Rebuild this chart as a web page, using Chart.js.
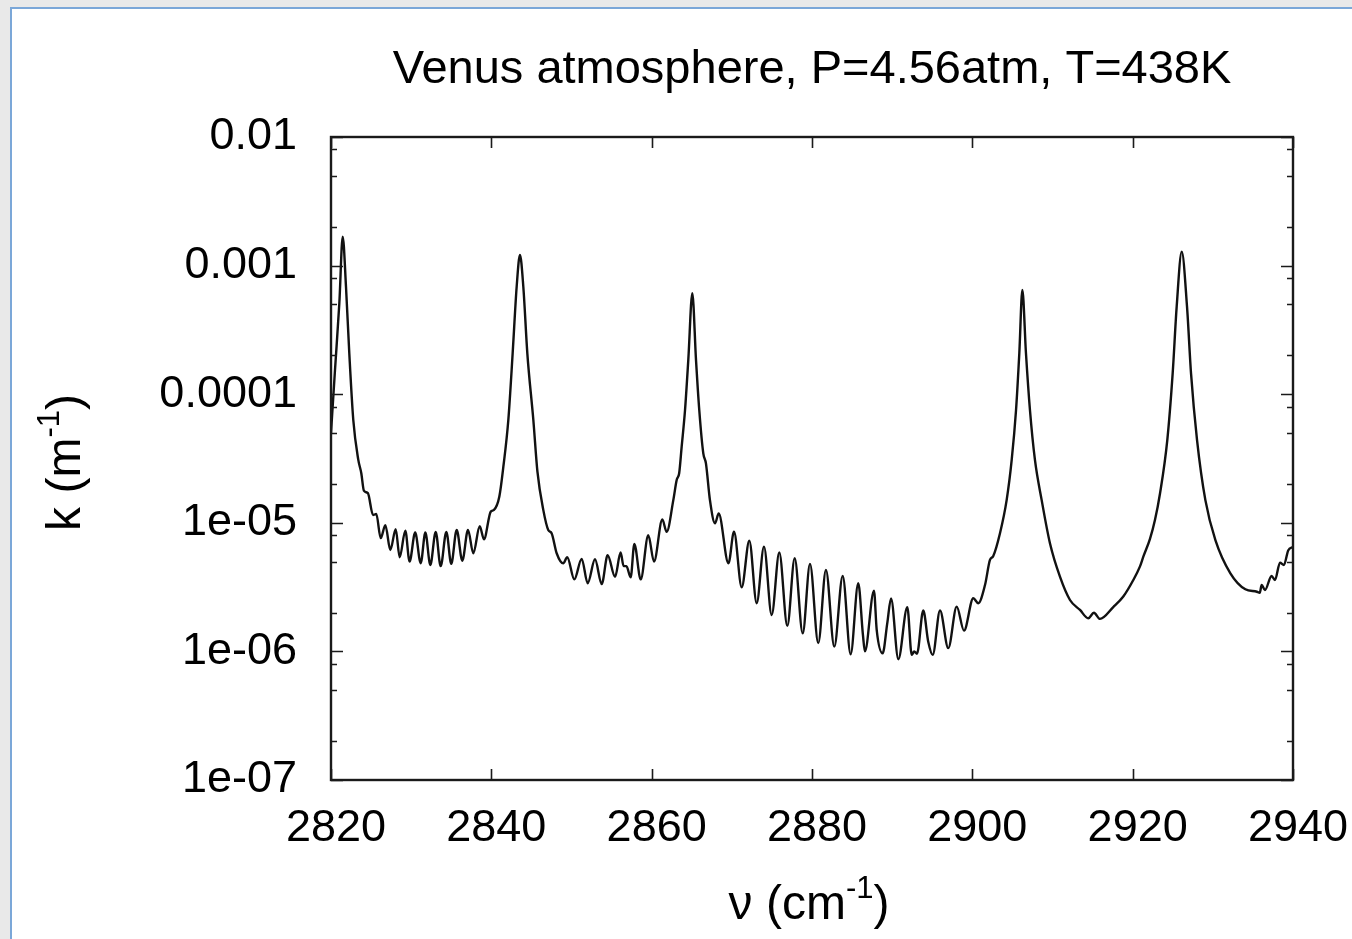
<!DOCTYPE html>
<html><head><meta charset="utf-8">
<script src="https://cdn.jsdelivr.net/npm/chart.js@4.4.0/dist/chart.umd.min.js"></script>
<style>
html,body{margin:0;padding:0;width:1352px;height:939px;overflow:hidden;background:#e9e9e9;}
#frame{position:absolute;left:10px;top:7px;width:1400px;height:1000px;background:#fff;border-left:2px solid #7ba7d8;border-top:2px solid #7ba7d8;}
#c{position:absolute;left:0;top:0;}
</style></head><body>
<div id="frame"></div>
<canvas id="c" width="1352" height="939"></canvas>
<script>
// wavenumber (cm^-1)
const wavenumber = [
 2820.0, 2820.5, 2821.04, 2821.46, 2821.87, 2822.28, 2822.78, 2823.4, 2823.78, 2824.1,
 2824.6, 2825.24, 2825.65, 2826.2, 2826.78, 2827.4, 2828.07, 2828.57, 2829.27, 2829.8,
 2830.5, 2831.19, 2831.77, 2832.39, 2833.06, 2833.68, 2834.39, 2835.0, 2835.68, 2836.38,
 2837.09, 2837.75, 2838.55, 2839.08, 2839.92, 2840.33, 2841.0, 2841.5, 2842.12, 2842.66,
 2843.16, 2843.57, 2843.99, 2844.49, 2845.24, 2845.75, 2846.48, 2847.1, 2847.52, 2848.15,
 2848.97, 2849.47, 2850.35, 2851.27, 2852.02, 2852.93, 2853.77, 2854.51, 2855.43, 2856.13,
 2856.5, 2856.85, 2857.38, 2857.84, 2858.63, 2859.58, 2860.29, 2861.33, 2861.87, 2862.7,
 2863.12, 2863.43, 2863.74, 2864.16, 2864.57, 2865.07, 2865.53, 2865.94, 2866.44, 2866.77,
 2867.27, 2867.9, 2868.36, 2869.58, 2870.27, 2871.23, 2872.18, 2873.1, 2874.01, 2874.97,
 2875.92, 2876.92, 2877.84, 2878.84, 2879.75, 2880.78, 2881.74, 2882.78, 2883.83, 2884.82,
 2885.77, 2886.35, 2886.6, 2887.73, 2888.07, 2888.81, 2889.39, 2889.86, 2890.77, 2891.89,
 2892.44, 2892.75, 2893.1, 2893.88, 2894.5, 2895.06, 2895.97, 2897.0, 2898.05, 2898.96,
 2900.12, 2900.74, 2901.58, 2902.2, 2902.6, 2903.45, 2904.28, 2904.91, 2905.45, 2905.86,
 2906.24, 2906.69, 2907.19, 2907.81, 2908.65, 2909.69, 2910.93, 2912.18, 2913.43, 2914.46,
 2915.17, 2915.92, 2917.58, 2918.83, 2920.08, 2920.9, 2921.33, 2922.16, 2922.78, 2923.41,
 2924.32, 2924.99, 2925.49, 2926.12, 2926.78, 2927.28, 2928.03, 2929.07, 2930.32, 2932.19,
 2934.06, 2935.5, 2935.85, 2936.09, 2936.5, 2937.33, 2937.75, 2938.38, 2938.87, 2939.4,
 2940.0
];
// absorption coefficient k (m^-1)
const absorption = [
 5.0e-5, 1.55e-4, 5.1e-4, 1.68e-3, 6.85e-4, 2.09e-4, 6.3e-5, 3.1e-5, 2.43e-5, 1.78e-5,
 1.7e-5, 1.15e-5, 1.17e-5, 7.6e-6, 9.6e-6, 6.15e-6, 8.9e-6, 5.4e-6, 8.7e-6, 5.0e-6,
 8.4e-6, 4.85e-6, 8.4e-6, 4.7e-6, 8.5e-6, 4.6e-6, 8.5e-6, 4.8e-6, 8.8e-6, 5.07e-6,
 8.8e-6, 5.8e-6, 9.4e-6, 7.45e-6, 1.22e-5, 1.26e-5, 1.6e-5, 2.73e-5, 6.3e-5, 2.08e-4,
 6.85e-4, 1.21e-3, 6.85e-4, 2.08e-4, 6.3e-5, 2.5e-5, 1.26e-5, 8.8e-6, 8.3e-6, 5.8e-6,
 4.84e-6, 5.4e-6, 3.63e-6, 5.24e-6, 3.39e-6, 5.2e-6, 3.34e-6, 5.6e-6, 3.8e-6, 5.87e-6,
 4.6e-6, 4.6e-6, 3.77e-6, 6.84e-6, 3.63e-6, 8.0e-6, 4.99e-6, 1.06e-5, 8.5e-6, 1.5e-5,
 2.15e-5, 2.43e-5, 3.9e-5, 7.5e-5, 1.85e-4, 6.09e-4, 1.85e-4, 7.5e-5, 3.47e-5, 2.9e-5,
 1.5e-5, 9.9e-6, 1.18e-5, 4.84e-6, 8.53e-6, 3.15e-6, 7.26e-6, 2.37e-6, 6.53e-6, 1.92e-6,
 5.87e-6, 1.58e-6, 5.3e-6, 1.38e-6, 4.79e-6, 1.16e-6, 4.3e-6, 1.09e-6, 3.86e-6, 9.5e-7,
 3.39e-6, 1.35e-6, 1.0e-6, 2.97e-6, 1.47e-6, 9.66e-7, 1.66e-6, 2.58e-6, 8.7e-7, 2.21e-6,
 9.4e-7, 1.0e-6, 9.6e-7, 2.08e-6, 1.19e-6, 9.4e-7, 2.08e-6, 1.06e-6, 2.23e-6, 1.45e-6,
 2.59e-6, 2.37e-6, 3.28e-6, 5.14e-6, 5.5e-6, 8.3e-6, 1.5e-5, 3.08e-5, 7.5e-5, 2.08e-4,
 6.46e-4, 2.08e-4, 7.5e-5, 3.08e-5, 1.5e-5, 6.9e-6, 3.81e-6, 2.51e-6, 2.1e-6, 1.81e-6,
 2.0e-6, 1.79e-6, 2.21e-6, 2.67e-6, 3.59e-6, 4.56e-6, 5.45e-6, 7.5e-6, 1.05e-5, 1.69e-5,
 4.4e-5, 1.45e-4, 4.79e-4, 1.28e-3, 4.79e-4, 1.45e-4, 4.4e-5, 1.5e-5, 7.34e-6, 4.05e-6,
 3.04e-6, 2.91e-6, 2.85e-6, 3.28e-6, 3.0e-6, 3.86e-6, 3.59e-6, 4.9e-6, 4.7e-6, 6.1e-6,
 6.5e-6
];
const xTickValues = [2820, 2840, 2860, 2880, 2900, 2920, 2940];
const xTickLabels = ['2820', '2840', '2860', '2880', '2900', '2920', '2940'];
const yTickValues = [1e-7, 1e-6, 1e-5, 1e-4, 1e-3, 1e-2];
const yTickLabels = ['1e-07', '1e-06', '1e-05', '0.0001', '0.001', '0.01'];
const yMinorMultipliers = [2, 5, 8];
const titleText = 'Venus atmosphere, P=4.56atm, T=438K';
const xTitleParts = [['\u03bd (cm', false], ['-1', true], [')', false]];
const yTitleParts = [['k (m', false], ['-1', true], [')', false]];

const FONT = '"Liberation Sans", Arial, Helvetica, sans-serif';

function drawParts(ctx, parts, size, supSize, supRise) {
  let widths = parts.map(p => { ctx.font = (p[1] ? supSize : size) + 'px ' + FONT; return ctx.measureText(p[0]).width; });
  const total = widths.reduce((a, b) => a + b, 0);
  let x = -total / 2;
  ctx.textBaseline = 'alphabetic';
  ctx.textAlign = 'left';
  parts.forEach((p, i) => {
    ctx.font = (p[1] ? supSize : size) + 'px ' + FONT;
    ctx.fillText(p[0], x, p[1] ? -supRise : 0);
    x += widths[i];
  });
}

const framePlugin = {
  id: 'framePlugin',
  afterDraw(chart) {
    const ctx = chart.ctx;
    const a = chart.chartArea;
    const xs = chart.scales.x, ys = chart.scales.y;
    ctx.save();
    ctx.strokeStyle = '#1a1a1a';
    ctx.lineWidth = 2.4;
    ctx.strokeRect(a.left, a.top, a.right - a.left, a.bottom - a.top);
    ctx.lineWidth = 1.6;
    ctx.beginPath();
    xTickValues.forEach(v => {
      const px = Math.round(xs.getPixelForValue(v)) + 0.5;
      ctx.moveTo(px, a.bottom); ctx.lineTo(px, a.bottom - 11);
      ctx.moveTo(px, a.top); ctx.lineTo(px, a.top + 11);
    });
    yTickValues.forEach((v, i) => {
      const py = Math.round(ys.getPixelForValue(v)) + 0.5;
      ctx.moveTo(a.left, py); ctx.lineTo(a.left + 12, py);
      ctx.moveTo(a.right, py); ctx.lineTo(a.right - 12, py);
      if (i > 0) {
        yMinorMultipliers.forEach(m => {
          const mv = m * yTickValues[i - 1];
          const my = Math.round(ys.getPixelForValue(mv)) + 0.5;
          ctx.moveTo(a.left, my); ctx.lineTo(a.left + 6, my);
          ctx.moveTo(a.right, my); ctx.lineTo(a.right - 6, my);
        });
      }
    });
    ctx.stroke();

    ctx.fillStyle = '#000';
    ctx.font = '47px ' + FONT;
    ctx.textAlign = 'center';
    ctx.textBaseline = 'alphabetic';
    ctx.fillText(titleText, (a.left + a.right) / 2, 83);

    ctx.save();
    ctx.translate((a.left + a.right) / 2 - 3, 919);
    drawParts(ctx, xTitleParts, 48, 31, 21);
    ctx.restore();

    ctx.save();
    ctx.translate(80, (a.top + a.bottom) / 2 + 4);
    ctx.rotate(-Math.PI / 2);
    drawParts(ctx, yTitleParts, 48, 31, 21);
    ctx.restore();
    ctx.restore();
  }
};

new Chart(document.getElementById('c').getContext('2d'), {
  type: 'line',
  data: {
    datasets: [{
      data: wavenumber.map((x, i) => ({ x: x, y: absorption[i] })),
      borderColor: '#111111',
      borderWidth: 2.4,
      pointRadius: 0,
      cubicInterpolationMode: 'monotone',
      fill: false
    }]
  },
  options: {
    responsive: false,
    animation: false,
    devicePixelRatio: 1,
    layout: { padding: { top: 137, right: 59, left: 0, bottom: 0 } },
    plugins: { legend: { display: false }, tooltip: { enabled: false }, title: { display: false } },
    scales: {
      x: {
        type: 'linear', min: 2820, max: 2940,
        afterBuildTicks: s => { s.ticks = xTickValues.map(v => ({ value: v })); },
        ticks: {
          font: { family: FONT, size: 45 }, color: '#000', padding: 22, maxRotation: 0, autoSkip: false, labelOffset: 5,
          callback: v => { const i = xTickValues.indexOf(v); return i >= 0 ? xTickLabels[i] : String(v); }
        },
        grid: { display: false, drawTicks: false },
        border: { display: false },
        afterFit: s => { s.height = 159; s.paddingLeft = 0; s.paddingRight = 0; }
      },
      y: {
        type: 'logarithmic', min: 1e-7, max: 1e-2,
        afterBuildTicks: s => { s.ticks = yTickValues.map(v => ({ value: v })); },
        ticks: {
          font: { family: FONT, size: 45 }, color: '#000', padding: 34, autoSkip: false,
          callback: v => {
            let best = 0, d = 1e9;
            yTickValues.forEach((t, i) => { const dd = Math.abs(Math.log10(t) - Math.log10(v)); if (dd < d) { d = dd; best = i; } });
            return yTickLabels[best];
          }
        },
        grid: { display: false, drawTicks: false },
        border: { display: false },
        afterFit: s => { s.width = 331; s.paddingTop = 0; s.paddingBottom = 0; }
      }
    }
  },
  plugins: [framePlugin]
});
</script>
</body></html>
